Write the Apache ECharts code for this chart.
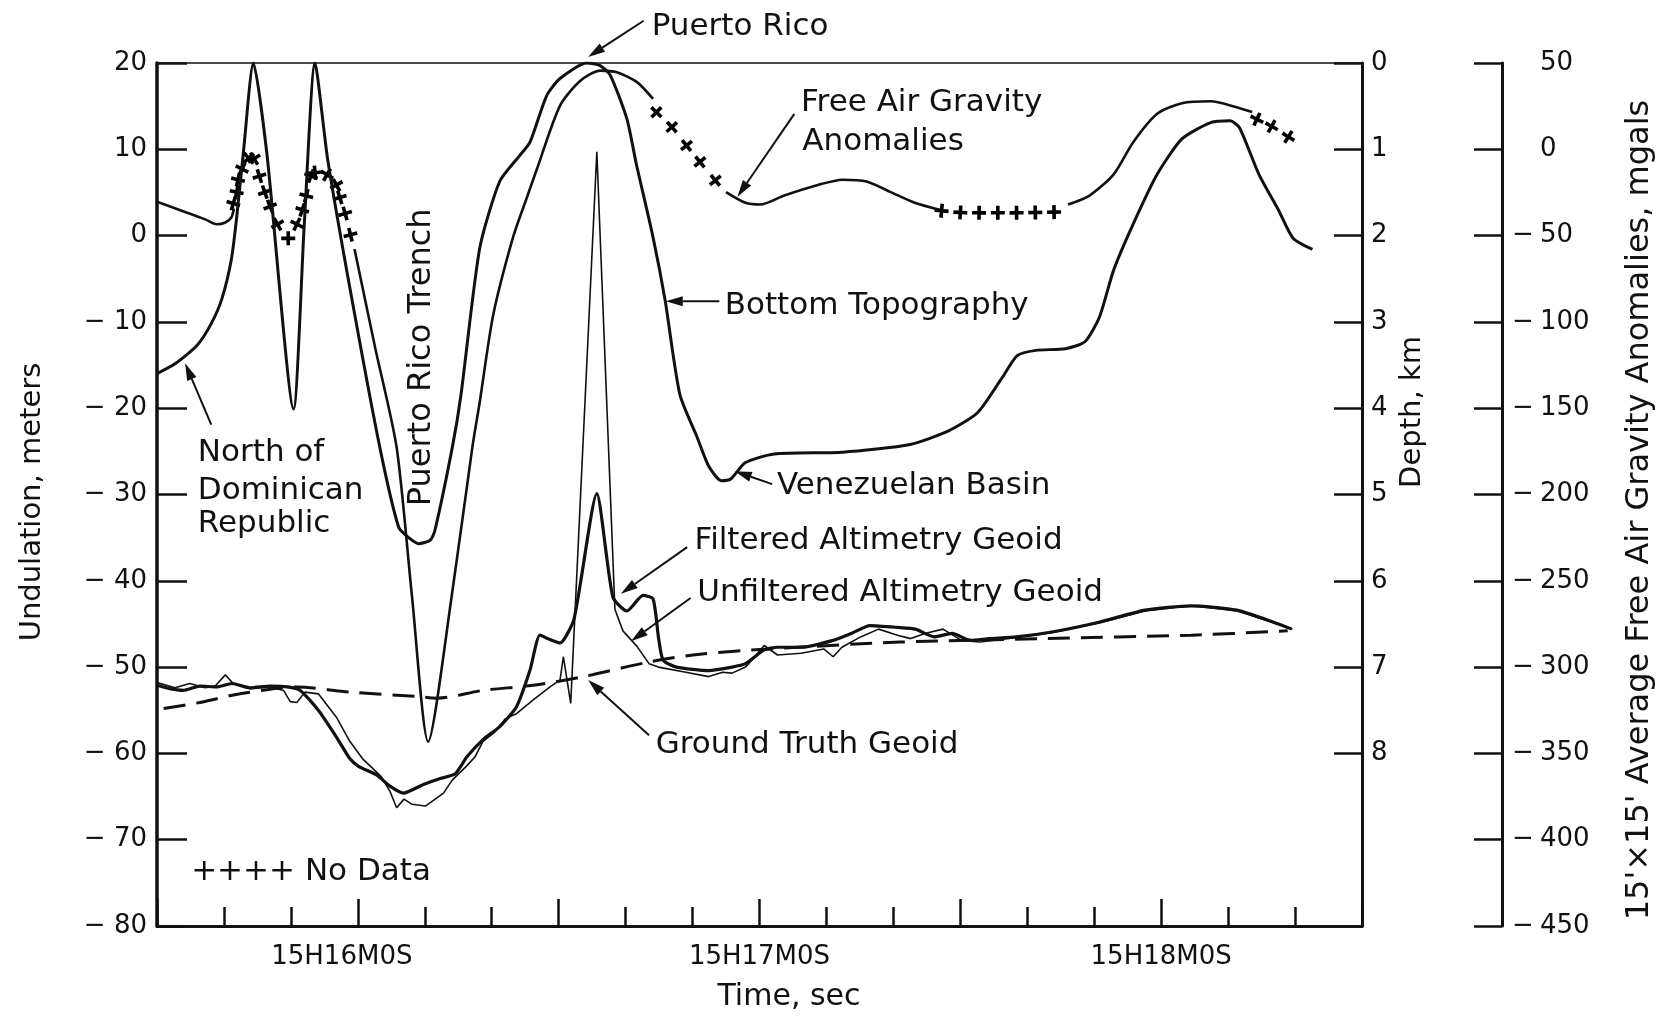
<!DOCTYPE html>
<html>
<head>
<meta charset="utf-8">
<script src="https://cdn.jsdelivr.net/npm/echarts@6/dist/echarts.min.js"></script>
<style>
html,body{margin:0;padding:0;background:#fff;}
#chart{width:1663px;height:1018px;}
</style>
</head>
<body>
<div id="chart"></div>
<script>
// ================= DATA =================
// Time in seconds after 15H16M0S
const timeLabels = { 0: '15H16M0S', 60: '15H17M0S', 120: '15H18M0S' };
const depthTickValues = [0, 1, 2, 3, 4, 5, 6, 7, 8];

// Bottom topography (depth, km)
const topoTime = [-30.0,-27.2,-24.0,-21.9,-20.3,-18.9,-18.1,-17.1,-15.6,-13.6,-9.6,-8.0,-6.4,-4.5,-0.9,3.3,6.1,7.6,9.1,10.8,11.5,14.1,15.4,18.2,21.2,24.2,25.7,28.2,30.2,34.2,36.2,37.7,40.2,41.6,44.1,45.9,48.1,50.7,52.4,54.3,55.7,57.9,62.2,72.4,82.5,88.3,92.6,96.3,98.5,101.3,105.7,108.6,110.8,112.9,115.8,119.4,123.1,127.4,130.3,131.7,134.6,137.5,139.7,142.6];
const topoDepth = [3.60,3.48,3.27,3.02,2.73,2.28,1.79,1.04,0,1.04,4.01,1.87,0,1.12,2.73,4.46,5.38,5.50,5.57,5.53,5.42,4.46,3.85,2.15,1.37,1.07,0.92,0.38,0.18,0,0.03,0.14,0.65,1.17,2.02,2.75,3.84,4.34,4.67,4.84,4.82,4.63,4.53,4.51,4.42,4.26,4.05,3.64,3.39,3.33,3.31,3.23,2.94,2.40,1.87,1.29,0.88,0.69,0.67,0.75,1.29,1.70,2.03,2.16];

// Free air gravity anomalies (mgal), solid segments
const gravityTime = [
  [-30.0,-25.8,-22.8,-21.1,-19.8,-18.9,-18.5],
  [-0.5,2.6,5.8,8.1,10.5,14.0,17.1,18.2,20.2,23.2,25.2,26.7,30.2,33.2,36.2,38.7,41.7,44.1],
  [55.0,57.9,60.1,63.7,68.7,72.4,76.0,79.6,83.2,86.9],
  [106.1,109.3,112.9,115.8,119.4,123.1,127.4,131.0,133.6]
];
const gravityMgal = [
  [-30.4,-36.3,-40.6,-43.4,-42.4,-39.5,-34.3],
  [-57.8,-115.1,-172.8,-259.5,-343.2,-259.5,-172.8,-146.7,-96.4,-50.8,-28.5,-12.0,25.3,39.6,45.6,44.6,38.9,29.2],
  [-24.8,-31.0,-32.0,-26.8,-20.7,-17.6,-18.7,-24.8,-31.0,-35.1],
  [-32.0,-26.8,-14.5,4.0,20.6,26.7,27.8,24.7,21.6]
];

// "No data" marks on the gravity profile (mgal)
const noDataTime = [-18.6,-18.1,-17.9,-17.3,-16.3,-15.5,-14.7,-13.9,-13.1,-12.0,-10.4,-9.1,-8.3,-7.7,-7.0,-6.4,-4.6,-3.2,-2.7,-1.9,-1.1,44.6,46.9,49.1,51.1,53.4,87.2,90.0,92.8,95.6,98.4,101.2,104.0,134.3,136.5,139.0];
const noDataMgal = [-31.4,-24.8,-17.6,-11.4,-5.2,-5.4,-15.5,-24.8,-33.1,-43.4,-51.6,-43.4,-35.1,-26.9,-15.5,-13.5,-14.7,-20.7,-27.9,-37.2,-49.5,21.5,12.9,2.2,-7.3,-18.0,-35.6,-36.6,-36.8,-36.8,-36.8,-36.6,-36.4,17.4,13.3,7.2];

// Geoid undulations (m)
const groundTruthTime = [-29.0,-23.6,-17.6,-9.1,-1.2,8.8,11.8,18.7,26.2,33.7,43.6,51.1,61.4,81.0,102.5,124.5,138.9];
const groundTruthUnd = [-54.8,-54.1,-53.1,-52.3,-52.9,-53.4,-53.6,-52.7,-52.1,-51.1,-49.4,-48.5,-47.9,-47.1,-46.7,-46.3,-45.8];

const filteredTime = [-30.0,-28.1,-26.1,-23.6,-21.1,-18.8,-16.1,-13.1,-10.5,-8.6,-5.9,-3.2,-1.2,0.1,2.8,4.8,6.8,9.8,12.3,14.5,16.3,18.7,21.2,23.7,25.7,27.2,28.4,30.2,32.3,35.7,38.1,40.2,42.6,44.1,44.9,45.6,47.6,52.4,55.9,57.9,60.7,62.7,66.2,71.0,73.7,76.5,80.6,83.3,86.1,88.8,91.5,94.3,98.4,103.9,110.7,117.6,124.5,131.3,136.8,139.5];
const filteredUnd = [-52.1,-52.5,-52.7,-52.2,-52.3,-51.9,-52.4,-52.2,-52.3,-52.7,-55.0,-58.1,-60.6,-61.5,-62.5,-63.8,-64.6,-63.6,-62.9,-62.4,-60.4,-58.4,-56.9,-54.6,-50.4,-46.3,-46.7,-47.2,-44.4,-29.9,-41.9,-43.5,-41.7,-42.1,-46.5,-49.2,-50.0,-50.4,-50.0,-49.6,-48.0,-47.7,-47.7,-46.9,-46.1,-45.2,-45.4,-45.6,-46.5,-46.1,-46.9,-46.7,-46.5,-45.9,-44.8,-43.4,-42.9,-43.4,-44.8,-45.6];

const unfilteredTime = [-30.0,-27.3,-25.1,-22.8,-21.3,-19.8,-18.6,-16.1,-13.1,-11.1,-10.1,-9.1,-7.9,-5.9,-3.2,-1.2,0.8,3.5,4.8,5.8,6.9,8.1,10.1,12.8,14.1,16.2,17.5,18.7,20.5,22.0,23.7,26.2,28.7,30.2,30.7,31.8,35.7,38.4,39.6,41.7,43.5,44.9,49.0,52.4,54.5,55.9,57.9,59.3,60.7,62.7,66.2,69.6,71.0,72.3,75.1,77.8,80.6,82.6,84.7,87.4,90.2,92.9,97.0,103.8,110.7,117.6,124.5,131.4,136.9,139.6];
const unfilteredUnd = [-51.8,-52.4,-51.9,-52.4,-52.2,-50.9,-51.9,-52.5,-52.3,-52.7,-54.0,-54.1,-52.9,-53.1,-55.8,-58.6,-60.7,-62.7,-64.4,-66.3,-65.3,-65.9,-66.1,-64.6,-63.1,-61.5,-60.4,-58.6,-57.5,-56.0,-55.4,-53.8,-52.3,-51.5,-48.8,-54.2,9.7,-43.3,-45.8,-47.6,-49.6,-50.0,-50.6,-51.1,-50.6,-50.7,-50.0,-48.8,-47.5,-48.6,-48.4,-47.9,-48.8,-47.7,-46.5,-45.6,-46.3,-46.7,-46.1,-45.6,-46.9,-47.1,-46.7,-46.0,-44.9,-43.5,-42.9,-43.5,-44.9,-45.6];

// ================= LAYOUT / STYLE =================
const INK = '#111';
const FONT = '"DejaVu Sans", "Liberation Sans", sans-serif';
const zip = (a, b) => a.map((v, i) => [v, b[i]]);
const PLUS = 'path://M5.2,0H8.8V5.2H14V8.8H8.8V14H5.2V8.8H0V5.2H5.2Z';

// annotation anchors in (time s, undulation m)
const notes = [
  { text: 'Puerto Rico', at: [43.9, 24.2] },
  { text: 'Free Air Gravity', at: [66.2, 15.4] },
  { text: 'Anomalies', at: [66.4, 10.8] },
  { text: 'Bottom Topography', at: [54.8, -8.2] },
  { text: 'Venezuelan Basin', at: [62.6, -29.0] },
  { text: 'Filtered Altimetry Geoid', at: [50.3, -35.4] },
  { text: 'Unfiltered Altimetry Geoid', at: [50.7, -41.4] },
  { text: 'Ground Truth Geoid', at: [44.5, -59.0] },
  { text: 'North of', at: [-23.9, -25.2] },
  { text: 'Dominican', at: [-23.9, -29.6] },
  { text: 'Republic', at: [-23.9, -33.4] },
  { text: '++++ No Data', at: [-24.9, -73.7] }
];
const noteArrows = [
  { from: [42.7, 24.9], to: [34.4, 20.7] },
  { from: [65.2, 14.1], to: [56.7, 4.5] },
  { from: [54.0, -7.6], to: [46.0, -7.6] },
  { from: [61.9, -28.8], to: [56.3, -27.3] },
  { from: [49.2, -36.1], to: [39.3, -41.5] },
  { from: [49.7, -42.0], to: [40.8, -47.0] },
  { from: [43.5, -57.9], to: [34.4, -51.5] },
  { from: [-21.9, -21.9], to: [-25.8, -14.8] }
];
const trenchNote = { text: 'Puerto Rico Trench', at: [9.6, -14.1] };

const chart = echarts.init(document.getElementById('chart'), null, { renderer: 'canvas' });

const axisFont = { color: INK, fontSize: 26, fontFamily: FONT };
const gravitySeries = gravityTime.map((ts, k) => ({
  type: 'line', xAxisIndex: 0, yAxisIndex: 2, data: zip(ts, gravityMgal[k]),
  symbol: 'none', smooth: 0.25, clip: true,
  lineStyle: { color: INK, width: 2.6 }
}));

const option = {
  animation: false,
  backgroundColor: '#fff',
  grid: { left: 157, right: 301, top: 63, bottom: 92, containLabel: false, outerBoundsMode: 'none' },
  xAxis: [
    { type: 'value', min: -30, max: 150, interval: 10, position: 'bottom',
      axisLine: { show: true, onZero: false, lineStyle: { color: INK, width: 3 } },
      axisTick: { show: true, inside: true, length: 19, lineStyle: { color: INK, width: 2.5 } },
      axisLabel: { show: false }, splitLine: { show: false } },
    { type: 'value', min: -30, max: 150, interval: 30, position: 'bottom',
      axisLine: { show: false, onZero: false },
      axisTick: { show: true, inside: true, length: 27, lineStyle: { color: INK, width: 2.5 } },
      axisLabel: Object.assign({ show: true, margin: 18,
        formatter: v => v === 0 ? '{a|' + timeLabels[v] + '}' : (timeLabels[v] || ''),
        rich: { a: { fontSize: 26, fontFamily: FONT, color: INK, padding: [0, 32, 0, 0] } } }, axisFont),
      splitLine: { show: false } },
    { type: 'value', min: -30, max: 150, position: 'top',
      axisLine: { show: true, onZero: false, lineStyle: { color: INK, width: 1.5 } },
      axisTick: { show: false }, axisLabel: { show: false }, splitLine: { show: false } }
  ],
  yAxis: [
    { type: 'value', min: -80, max: 20, interval: 10, position: 'left',
      axisLine: { show: true, onZero: false, lineStyle: { color: INK, width: 3.5 } },
      axisTick: { show: true, inside: true, length: 30, lineStyle: { color: INK, width: 2.5 } },
      axisLabel: Object.assign({ margin: 10, formatter: v => v < 0 ? '\u2212 ' + Math.abs(v) : String(v) }, axisFont),
      splitLine: { show: false } },
    { type: 'value', min: 0, max: 10, interval: 1, inverse: true, position: 'right',
      axisLine: { show: true, onZero: false, lineStyle: { color: INK, width: 3 } },
      axisTick: { show: true, inside: true, length: 28, customValues: depthTickValues, lineStyle: { color: INK, width: 2.5 } },
      axisLabel: Object.assign({ margin: 9, customValues: depthTickValues, formatter: v => v <= 8 ? String(v) : '' }, axisFont),
      splitLine: { show: false } },
    { type: 'value', min: -450, max: 50, interval: 50, position: 'right', offset: 140,
      axisLine: { show: true, onZero: false, lineStyle: { color: INK, width: 3 } },
      axisTick: { show: true, inside: true, length: 28, lineStyle: { color: INK, width: 2.5 } },
      axisLabel: { margin: 10, color: INK, fontSize: 26, fontFamily: FONT,
        formatter: v => v < 0 ? '{m|\u2212}{n|' + Math.abs(v) + '}' : '{m| }{n|' + v + '}',
        rich: { m: { width: 28, fontSize: 26, fontFamily: FONT, color: INK },
                n: { fontSize: 26, fontFamily: FONT, color: INK } } },
      splitLine: { show: false } }
  ],
  series: [
    { type: 'line', name: 'Bottom Topography', xAxisIndex: 0, yAxisIndex: 1,
      data: zip(topoTime, topoDepth), symbol: 'none', smooth: 0.22, clip: true,
      lineStyle: { color: INK, width: 3 } },
    ...gravitySeries,
    { type: 'scatter', name: 'No Data', xAxisIndex: 0, yAxisIndex: 2,
      data: zip(noDataTime, noDataMgal), symbol: PLUS, symbolSize: 14,
      itemStyle: { color: '#000', opacity: 1 }, clip: false },
    { type: 'line', name: 'Ground Truth Geoid', xAxisIndex: 0, yAxisIndex: 0,
      data: zip(groundTruthTime, groundTruthUnd), symbol: 'none', smooth: 0.3,
      lineStyle: { color: INK, width: 3, type: [22, 11] } },
    { type: 'line', name: 'Filtered Altimetry Geoid', xAxisIndex: 0, yAxisIndex: 0,
      data: zip(filteredTime, filteredUnd), symbol: 'none', smooth: 0.2,
      lineStyle: { color: INK, width: 3.2 } },
    { type: 'line', name: 'Unfiltered Altimetry Geoid', xAxisIndex: 0, yAxisIndex: 0,
      data: zip(unfilteredTime, unfilteredUnd), symbol: 'none', smooth: false,
      lineStyle: { color: INK, width: 1.6 } }
  ]
};
chart.setOption(option);

// ---- orient the "+" marks along the profile ----
const gPix = c => chart.convertToPixel({ xAxisIndex: 0, yAxisIndex: 2 }, c);
const plusData = noDataTime.map((t, i) => {
  const prev = i > 0 && Math.abs(noDataTime[i - 1] - t) < 4 ? i - 1 : i;
  const next = i < noDataTime.length - 1 && Math.abs(noDataTime[i + 1] - t) < 4 ? i + 1 : i;
  let rot = 0;
  if (prev !== next) {
    const a = gPix([noDataTime[prev], noDataMgal[prev]]);
    const b = gPix([noDataTime[next], noDataMgal[next]]);
    rot = -Math.atan2(b[1] - a[1], b[0] - a[0]) * 180 / Math.PI;
  }
  return { value: [t, noDataMgal[i]], symbolRotate: rot };
});

// ---- annotations ----
const P = c => chart.convertToPixel({ xAxisIndex: 0, yAxisIndex: 0 }, c);
const NOTE_FONT = '31px ' + FONT;
const graphics = [];
notes.forEach(n => {
  const p = P(n.at);
  graphics.push({ type: 'text', x: p[0], y: p[1], silent: true,
    style: { text: n.text, font: NOTE_FONT, fill: INK, align: 'left', verticalAlign: 'middle',
             textAlign: 'left', textVerticalAlign: 'middle' } });
});
(function () {
  const p = P(trenchNote.at);
  graphics.push({ type: 'text', x: p[0], y: p[1], rotation: Math.PI / 2, silent: true,
    style: { text: trenchNote.text, font: '32px ' + FONT, fill: INK, align: 'center', verticalAlign: 'middle',
             textAlign: 'center', textVerticalAlign: 'middle' } });
})();
noteArrows.forEach(ar => {
  const a = P(ar.from), b = P(ar.to);
  const dx = b[0] - a[0], dy = b[1] - a[1], L = Math.hypot(dx, dy);
  const ux = dx / L, uy = dy / L, hl = 17, hw = 5;
  const bx = b[0] - ux * hl, by = b[1] - uy * hl;
  graphics.push({ type: 'line', silent: true, shape: { x1: a[0], y1: a[1], x2: bx, y2: by },
    style: { stroke: INK, lineWidth: 2 } });
  graphics.push({ type: 'polygon', silent: true,
    shape: { points: [[b[0], b[1]], [bx - uy * hw, by + ux * hw], [bx + uy * hw, by - ux * hw]] },
    style: { fill: INK } });
});
// axis titles
const titles = [
  { text: 'Undulation, meters', x: 32, y: 502, rot: Math.PI / 2, size: 29 },
  { text: 'Depth, km', x: 1412, y: 412, rot: Math.PI / 2, size: 29 },
  { text: "15'\u00D715' Average Free Air Gravity Anomalies, mgals", x: 1640, y: 510, rot: Math.PI / 2, size: 32 },
  { text: 'Time, sec', x: 789, y: 997, rot: 0, size: 30 }
];
titles.forEach(t => graphics.push({ type: 'text', x: t.x, y: t.y, rotation: t.rot, silent: true,
  style: { text: t.text, font: t.size + 'px ' + FONT, fill: INK, align: 'center', verticalAlign: 'middle',
           textAlign: 'center', textVerticalAlign: 'middle' } }));

chart.setOption({ graphic: graphics, series: [{}, {}, {}, {}, {}, { data: plusData }] });
</script>
</body>
</html>
